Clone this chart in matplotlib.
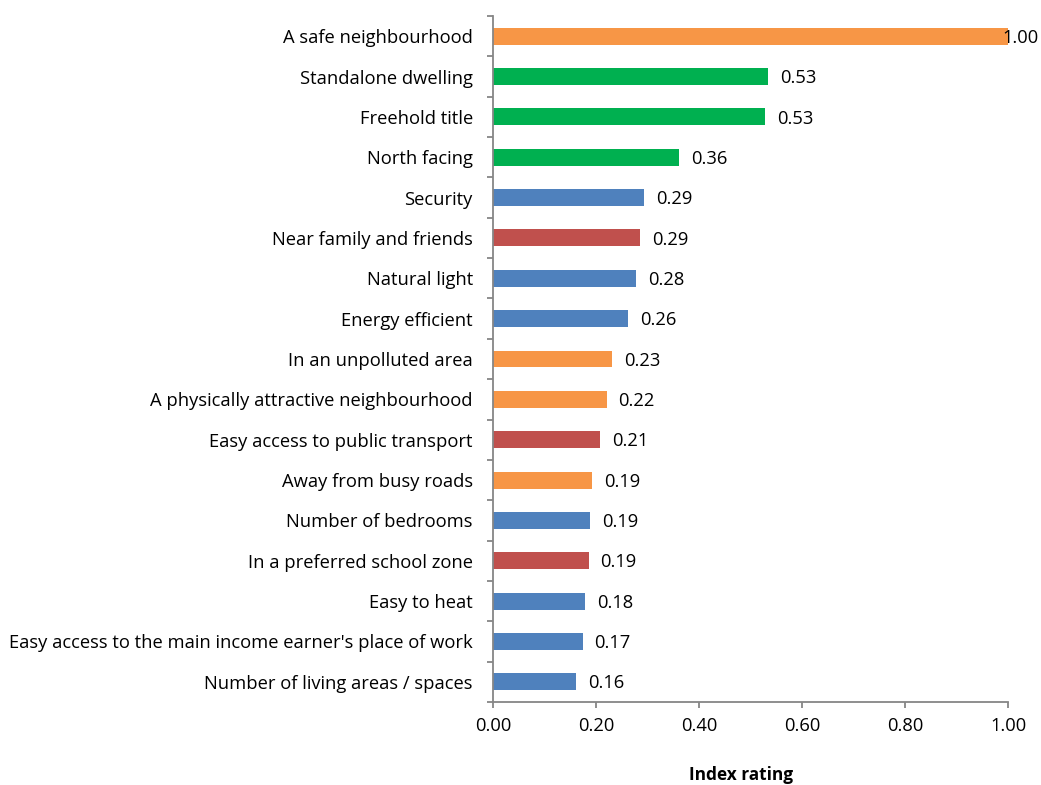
import matplotlib
matplotlib.use("Agg")
import matplotlib.pyplot as plt
from matplotlib.ticker import FixedLocator, NullFormatter

plt.rcParams['font.family'] = ['Open Sans', 'DejaVu Sans']

# Housing attributes, listed from bottom to top of the chart
categories = [
    "Number of living areas / spaces",
    "Easy access to the main income earner's place of work",
    "Easy to heat",
    "In a preferred school zone",
    "Number of bedrooms",
    "Away from busy roads",
    "Easy access to public transport",
    "A physically attractive neighbourhood",
    "In an unpolluted area",
    "Energy efficient",
    "Natural light",
    "Near family and friends",
    "Security",
    "North facing",
    "Freehold title",
    "Standalone dwelling",
    "A safe neighbourhood",
]
index_rating = [0.161, 0.174, 0.179, 0.186, 0.188, 0.192, 0.208, 0.221, 0.232,
                0.262, 0.278, 0.286, 0.294, 0.362, 0.528, 0.534, 1.00]
groups = ["dwelling", "dwelling", "dwelling", "access", "dwelling", "area",
          "access", "area", "area", "dwelling", "dwelling", "access",
          "dwelling", "tenure", "tenure", "tenure", "area"]
x_ticks = [0.0, 0.2, 0.4, 0.6, 0.8, 1.0]

group_colors = {
    "dwelling": "#4F81BD",
    "access": "#C0504D",
    "area": "#F79646",
    "tenure": "#00B050",
}
axis_grey = "#868686"
fs = 13.2

fig = plt.figure(figsize=(10.41, 7.85), dpi=100)
ax = fig.add_axes([493 / 1041, 1 - 702 / 785, (1008 - 493) / 1041, (702 - 16) / 785])

ypos = list(range(len(categories)))
colors = [group_colors[g] for g in groups]
ax.barh(ypos, index_rating, height=0.42, color=colors, zorder=2)

ax.set_xlim(0, 1.0)
ax.set_ylim(-0.5, len(categories) - 0.5)

for spine in ("top", "right"):
    ax.spines[spine].set_visible(False)
for spine in ("left", "bottom"):
    ax.spines[spine].set_color(axis_grey)
    ax.spines[spine].set_linewidth(1.3)

ax.set_yticks(ypos)
ax.set_yticklabels(categories, fontsize=fs)
ax.tick_params(axis="y", which="major", length=0, pad=14.5)
ax.yaxis.set_minor_locator(FixedLocator([i - 0.5 for i in range(len(categories) + 1)]))
ax.yaxis.set_minor_formatter(NullFormatter())
ax.tick_params(axis="y", which="minor", length=4.5, width=1.3, color=axis_grey, direction="out")

ax.set_xticks(x_ticks)
ax.set_xticklabels([f"{t:.2f}" for t in x_ticks], fontsize=fs)
ax.tick_params(axis="x", which="major", length=4, width=1.3, color=axis_grey,
               direction="out", pad=7)

for y, v in zip(ypos, index_rating):
    if v >= 0.95:
        ax.annotate(f"{v:.2f}", xy=(v, y), xytext=(-3.8, -1.2), textcoords="offset points",
                    ha="left", va="center", fontsize=fs, zorder=3, annotation_clip=False)
    else:
        ax.annotate(f"{v:.2f}", xy=(v, y), xytext=(8.5, -1.2), textcoords="offset points",
                    ha="left", va="center", fontsize=fs, zorder=3)

fig.text(741 / 1041, 1 - 775 / 785, "Index rating", ha="center", va="center",
         fontsize=12.4, fontweight="bold")

fig.savefig("out.png", dpi=100)
